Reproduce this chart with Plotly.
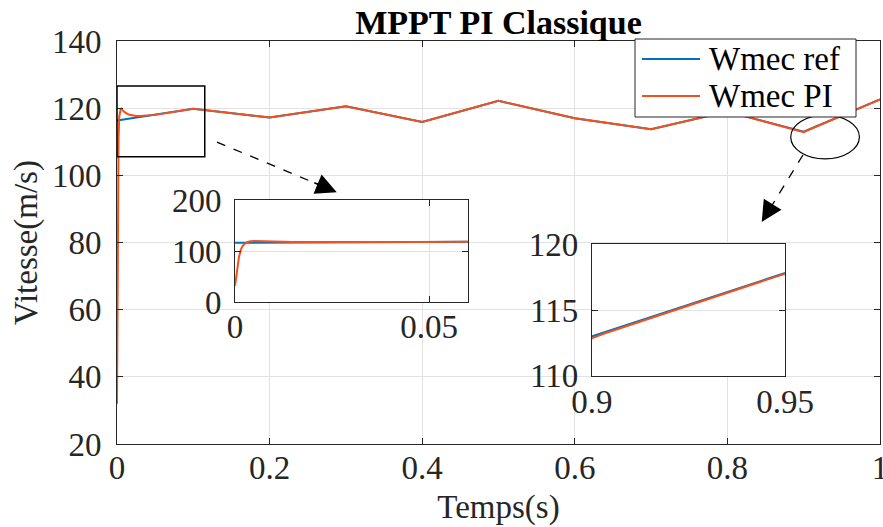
import plotly.graph_objects as go

# ---------------- data ----------------
t_ref = [0.0, 0.1, 0.2, 0.3, 0.4, 0.5, 0.6, 0.7, 0.8, 0.9, 1.0]
w_ref = [116.3, 119.8, 117.2, 120.6, 115.9, 122.2, 117.0, 113.7, 119.0, 113.0, 122.6]

t_pi = [0.0, 0.0005, 0.001, 0.0015, 0.002, 0.003, 0.004, 0.005, 0.007, 0.01,
        0.015, 0.02, 0.025, 0.03, 0.04, 0.05, 0.1, 0.2, 0.3, 0.4, 0.5, 0.6,
        0.7, 0.8, 0.9, 0.903, 1.0]
w_pi = [32.0, 65.0, 88.0, 103.0, 111.0, 117.5, 119.6, 120.0, 119.5, 118.8,
        118.1, 117.8, 117.7, 117.7, 117.8, 118.0, 119.8, 117.2, 120.6, 115.9,
        122.2, 117.0, 113.7, 119.0, 112.85, 113.2, 122.6]

series_names = ["Wmec ref", "Wmec PI"]

main_xticks = [0, 0.2, 0.4, 0.6, 0.8, 1.0]
main_xlabels = ["0", "0.2", "0.4", "0.6", "0.8", "1"]
main_yticks = [20, 40, 60, 80, 100, 120, 140]

in1_xticks, in1_xlabels = [0, 0.05], ["0", "0.05"]
in1_yticks = [0, 100, 200]
in2_xticks, in2_xlabels = [0.9, 0.95], ["0.9", "0.95"]
in2_yticks = [110, 115, 120]

BLUE = "#0072BD"
ORANGE = "#F2501C"
COLORS = [BLUE, ORANGE]
AX = "#262626"
GRID = "#e2e2e2"
FONT = "Liberation Serif"
FS = 33

W, H = 883, 527
ML, MR, MT, MB = 117, 3, 41, 83
PW, PH = W - ML - MR, H - MT - MB


def px2paper(px, py):
    return (px - ML) / PW, (H - MB - py) / PH


fig = go.Figure()

for xa, ya in [("x", "y"), ("x2", "y2"), ("x3", "y3")]:
    fig.add_trace(go.Scatter(x=t_ref, y=w_ref, mode="lines", name=series_names[0],
                             line=dict(color=BLUE, width=2), xaxis=xa, yaxis=ya,
                             showlegend=False))
    fig.add_trace(go.Scatter(x=t_pi, y=w_pi, mode="lines", name=series_names[1],
                             line=dict(color=ORANGE, width=2), xaxis=xa, yaxis=ya,
                             showlegend=False))

axis_common = dict(showgrid=True, gridcolor=GRID, gridwidth=1, showline=True,
                   linecolor=AX, linewidth=1, mirror="ticks", ticks="inside",
                   ticklen=6, tickcolor=AX, zeroline=False, automargin=False,
                   ticklabeloverflow="allow",
                   tickfont=dict(family=FONT, size=FS, color=AX))

fig.update_layout(
    width=W, height=H,
    margin=dict(l=ML, r=MR, t=MT, b=MB, autoexpand=False),
    paper_bgcolor="white", plot_bgcolor="white",
    font=dict(family=FONT, size=FS, color=AX),
    title=dict(text="<b>MPPT PI Classique</b>", x=0.5, xref="paper",
               y=1 - 22 / H, yanchor="middle",
               font=dict(family=FONT, size=34, color="black")),
    xaxis=dict(range=[0, 1], tickvals=main_xticks, ticktext=main_xlabels,
               domain=[0, 1], anchor="y", ticklabelstandoff=-6,
               title=dict(text="Temps(s)", standoff=10,
                          font=dict(family=FONT, size=FS, color=AX)),
               **axis_common),
    yaxis=dict(range=[20, 140], tickvals=main_yticks, domain=[0, 1], anchor="x",
               ticklabelstandoff=8,
               title=dict(text="Vitesse(m/s)", standoff=4,
                          font=dict(family=FONT, size=FS, color=AX)),
               **axis_common),
    xaxis2=dict(range=[0, 0.06], tickvals=in1_xticks, ticktext=in1_xlabels,
                domain=[0.1547, 0.460], anchor="y2", ticklabelstandoff=-5,
                **axis_common),
    yaxis2=dict(range=[0, 200], tickvals=in1_yticks, domain=[0.352, 0.605],
                anchor="x2", ticklabelstandoff=6, **axis_common),
    xaxis3=dict(range=[0.9, 0.95], tickvals=in2_xticks, ticktext=in2_xlabels,
                domain=[0.6225, 0.8755], anchor="y3", ticklabelstandoff=-3,
                **axis_common),
    yaxis3=dict(range=[110, 120], tickvals=in2_yticks, domain=[0.169, 0.496],
                anchor="x3", ticklabelstandoff=6, **axis_common),
    showlegend=False,
)

# white backgrounds for the insets (hide main grid)
for xr, yr in [("x2 domain", "y2 domain"), ("x3 domain", "y3 domain")]:
    fig.add_shape(type="rect", xref=xr, yref=yr, x0=0, x1=1, y0=0, y1=1,
                  fillcolor="white", line=dict(width=0), layer="below")

# zoom rectangle and ellipse on the main axes
fig.add_shape(type="rect", xref="x", yref="y", x0=0.0, x1=0.115, y0=105.5, y1=126.6,
              line=dict(color="black", width=1.5), layer="above")
fig.add_shape(type="circle", xref="x", yref="y", x0=0.883, x1=0.973, y0=104.9, y1=117.9,
              line=dict(color="black", width=1.2), layer="above")

# dashed arrows (tail -> head) in main-axis coordinates
arrows = [((0.131, 109.9), (0.288, 95.0)), ((0.899, 106.05), (0.845, 86.1))]
for (tx, ty), (hx, hy) in arrows:
    fig.add_shape(type="line", xref="x", yref="y", x0=tx, y0=ty,
                  x1=tx + (hx - tx) * 0.88, y1=ty + (hy - ty) * 0.88,
                  line=dict(color="black", width=1.3, dash="dash"), layer="above")
    fig.add_annotation(x=hx, y=hy, ax=tx + (hx - tx) * 0.8, ay=ty + (hy - ty) * 0.8,
                       xref="x", yref="y", axref="x", ayref="y", text="",
                       showarrow=True, arrowhead=2, arrowsize=2.6, arrowwidth=1.6,
                       arrowcolor="black", standoff=0)

# legend box (MATLAB style), drawn over the main axes
lx0, ly0 = px2paper(635, 117)
lx1, ly1 = px2paper(856, 39)
fig.add_shape(type="rect", xref="paper", yref="paper", x0=lx0, y0=ly0, x1=lx1, y1=ly1,
              fillcolor="white", line=dict(color=AX, width=1), layer="above")
for i, (name, col) in enumerate(zip(series_names, COLORS)):
    row_y = 59 + 37 * i
    sx0, sy = px2paper(642, row_y)
    sx1, _ = px2paper(700, row_y)
    fig.add_shape(type="line", xref="paper", yref="paper", x0=sx0, x1=sx1, y0=sy, y1=sy,
                  line=dict(color=col, width=2), layer="above")
    tx, _ = px2paper(707, row_y)
    fig.add_annotation(x=tx, y=sy, xref="paper", yref="paper", text=name,
                       showarrow=False, xanchor="left", yanchor="middle",
                       font=dict(family=FONT, size=FS, color="black"))

fig.write_html("out.html")
